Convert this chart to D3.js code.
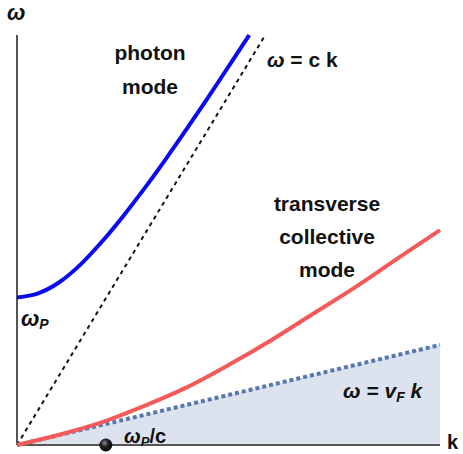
<!DOCTYPE html>
<html lang="en">
<head>
  <meta charset="UTF-8">
  <title>Dispersion</title>
  <script src="https://d3js.org/d3.v7.min.js"></script>
  <style>
    body { margin: 0; background: #fff; }
    text { font-family: "Liberation Sans", Arial, sans-serif; font-weight: bold; fill: #111; }
  </style>
</head>
<body>
  <script>
    // values (k, omega in arbitrary units)
    const kValues = [0, 0.5, 1, 1.5, 2, 2.5, 3, 3.5, 4, 4.5, 5, 5.49];
    const photonOmega = [3.6, 3.7, 3.97, 4.4, 4.95, 5.57, 6.24, 6.95, 7.69, 8.45, 9.23, 10];
    const redK = [0, 1, 2, 3, 4, 5, 6, 7, 8, 9, 10];
    const redOmega = [0, 0.25, 0.55, 0.95, 1.4, 1.95, 2.55, 3.2, 3.85, 4.55, 5.24];
    const lightLine = [[0, 0], [5.87, 10]];
    const fermiLine = [[0, 0], [10, 2.44]];
    const plasmaK = 2.1;

    const width = 463, height = 454;
    const x = d3.scaleLinear().domain([0, 10]).range([17, 440]);
    const y = d3.scaleLinear().domain([0, 10]).range([445, 35]);

    const svg = d3.select("body").append("svg")
      .attr("width", width)
      .attr("height", height);

    const defs = svg.append("defs");
    const grad = defs.append("radialGradient").attr("id", "ball")
      .attr("cx", "40%").attr("cy", "35%").attr("r", "65%");
    grad.append("stop").attr("offset", "0%").attr("stop-color", "#8a8a9a");
    grad.append("stop").attr("offset", "45%").attr("stop-color", "#222");
    grad.append("stop").attr("offset", "100%").attr("stop-color", "#000");

    const line = d3.line().x(d => x(d[0])).y(d => y(d[1]));

    // shaded region below omega = vF k
    svg.append("path")
      .datum(fermiLine)
      .attr("d", d3.area().x(d => x(d[0])).y0(y(0)).y1(d => y(d[1])))
      .attr("fill", "#dde3ee");

    // axes
    svg.append("line")
      .attr("x1", x(0)).attr("x2", x(0))
      .attr("y1", y(0)).attr("y2", y(10))
      .attr("stroke", "#555").attr("stroke-width", 2);
    svg.append("line")
      .attr("x1", x(0)).attr("x2", x(10))
      .attr("y1", y(0)).attr("y2", y(0))
      .attr("stroke", "#555").attr("stroke-width", 2);

    // omega = c k
    svg.append("path")
      .datum(lightLine)
      .attr("d", line)
      .attr("fill", "none")
      .attr("stroke", "#111")
      .attr("stroke-width", 2)
      .attr("stroke-dasharray", "4,4");

    // omega = vF k
    svg.append("path")
      .datum(fermiLine)
      .attr("d", line)
      .attr("fill", "none")
      .attr("stroke", "#5578b5")
      .attr("stroke-width", 4)
      .attr("stroke-dasharray", "4,3");

    // transverse collective mode
    svg.append("path")
      .datum(redK.map((k, i) => [k, redOmega[i]]))
      .attr("d", d3.line().x(d => x(d[0])).y(d => y(d[1])).curve(d3.curveCatmullRom))
      .attr("fill", "none")
      .attr("stroke", "#f55a5a")
      .attr("stroke-width", 4);

    // photon mode
    svg.append("path")
      .datum(kValues.map((k, i) => [k, photonOmega[i]]))
      .attr("d", d3.line().x(d => x(d[0])).y(d => y(d[1])).curve(d3.curveMonotoneX))
      .attr("fill", "none")
      .attr("stroke", "#0a0af0")
      .attr("stroke-width", 4);

    // omega_p / c point
    svg.append("circle")
      .attr("cx", x(plasmaK)).attr("cy", y(0))
      .attr("r", 6.5)
      .attr("fill", "url(#ball)");

    // labels
    const label = (tx, ty, str, size, anchor) =>
      svg.append("text").attr("x", tx).attr("y", ty)
        .attr("font-size", size)
        .attr("text-anchor", anchor || "start")
        .text(str);

    label(150, 60, "photon", 21, "middle");
    label(150, 94, "mode", 21, "middle");
    label(327, 211, "transverse", 21, "middle");
    label(327, 244, "collective", 21, "middle");
    label(327, 277, "mode", 21, "middle");

    const omega = (tx, ty, size) => svg.append("text")
      .attr("x", tx).attr("y", ty)
      .attr("font-size", size)
      .attr("font-style", "italic");

    omega(7, 20, 22).text("ω");
    label(447, 449, "k", 20);

    // omega = c k
    const t1 = omega(267, 67, 21);
    t1.append("tspan").text("ω");
    t1.append("tspan").attr("font-style", "normal").text(" = c k");

    // omega_P
    const t2 = omega(21, 326, 22);
    t2.append("tspan").text("ω");
    t2.append("tspan").attr("font-size", 14).attr("dy", 3).text("P");

    // omega = vF k
    const t3 = omega(343, 398, 21);
    t3.append("tspan").text("ω = v");
    t3.append("tspan").attr("font-size", 14).attr("dy", 4).text("F");
    t3.append("tspan").attr("dy", -4).text(" k");

    // omega_P / c
    const t4 = omega(124, 443, 20);
    t4.append("tspan").text("ω");
    t4.append("tspan").attr("font-size", 13).attr("dy", 3).text("P");
    t4.append("tspan").attr("dy", -3).attr("font-style", "normal").text("/c");
  </script>
</body>
</html>
